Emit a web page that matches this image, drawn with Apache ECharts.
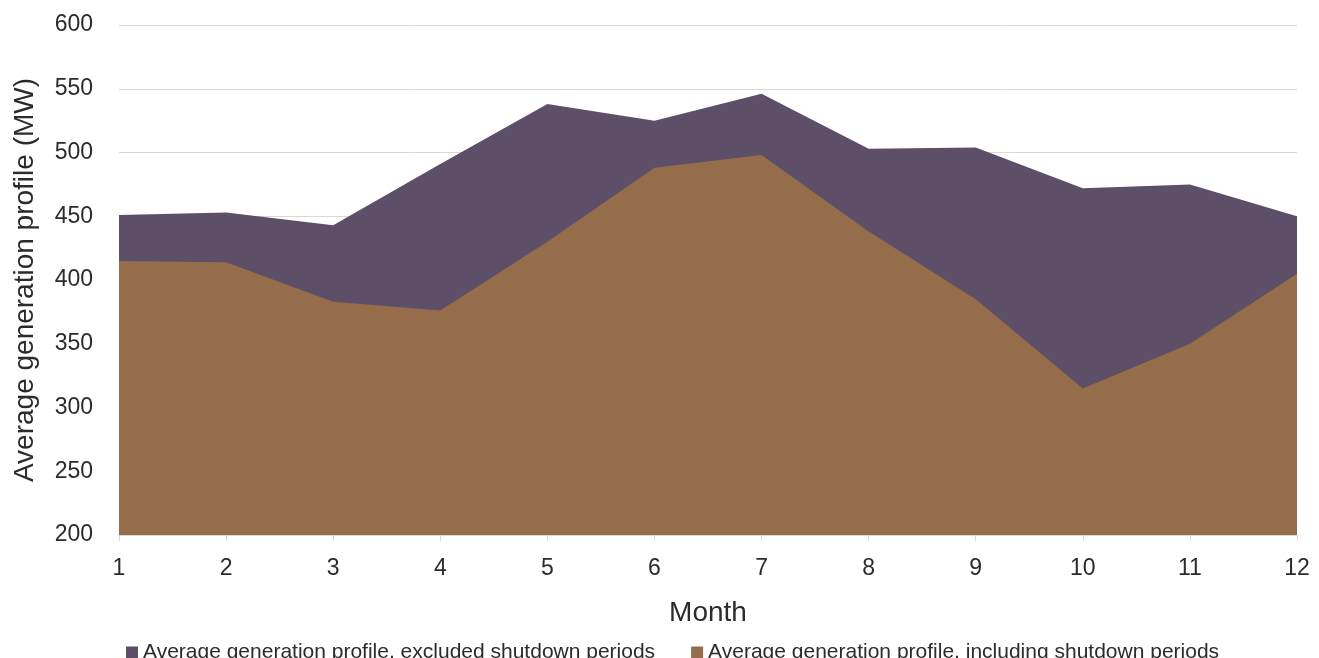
<!DOCTYPE html>
<html>
<head>
<meta charset="utf-8">
<script src="https://cdn.jsdelivr.net/npm/echarts@6/dist/echarts.min.js"></script>
<style>
  html, body { margin: 0; padding: 0; background: #fff; }
  #chart { width: 1319px; height: 658px; }
</style>
</head>
<body>
<div id="chart"></div>
<script>
// Months on the horizontal axis
const months = ['1', '2', '3', '4', '5', '6', '7', '8', '9', '10', '11', '12'];

// Average generation (MW) with shutdown periods left out
const excludedShutdown = [451, 453, 443, 491, 538, 525, 546, 503, 504, 472, 475, 450];

// Average generation (MW) with shutdown periods counted
const includingShutdown = [415, 414, 383, 376, 430, 488, 498, 438, 385, 315, 350, 405];

// Value axis range and step
const yMin = 200;
const yMax = 600;
const yStep = 50;

const seriesNames = [
  'Average generation profile, excluded shutdown periods',
  'Average generation profile, including shutdown periods'
];

const FONT = 'Liberation Sans';
const TEXT = '#2b2b2b';
const chart = echarts.init(document.getElementById('chart'), null, { renderer: 'canvas' });

chart.setOption({
  animation: false,
  backgroundColor: '#ffffff',
  textStyle: { fontFamily: FONT },
  color: ['#5d4f68', '#966d4a'],
  grid: { left: 119, right: 22, top: 25, bottom: 123, containLabel: false },
  legend: {
    data: seriesNames,
    left: 121,
    top: 637,
    itemWidth: 12,
    itemHeight: 12,
    itemGap: 36,
    icon: 'rect',
    textStyle: { fontFamily: FONT, fontSize: 21, color: TEXT }
  },
  xAxis: {
    type: 'category',
    data: months,
    boundaryGap: false,
    name: 'Month',
    nameLocation: 'middle',
    nameGap: 64,
    nameTextStyle: { fontFamily: FONT, fontSize: 28, color: TEXT },
    axisLine: { show: true, lineStyle: { color: '#d9d9d9', width: 1 } },
    axisTick: { show: true, length: 6, lineStyle: { color: '#d9d9d9' } },
    axisLabel: { fontFamily: FONT, fontSize: 23, color: TEXT, margin: 22 },
    splitLine: { show: false }
  },
  yAxis: {
    type: 'value',
    min: yMin,
    max: yMax,
    interval: yStep,
    name: 'Average generation profile (MW)',
    nameLocation: 'middle',
    nameGap: 80,
    nameTextStyle: { fontFamily: FONT, fontSize: 28, color: TEXT },
    axisLine: { show: false },
    axisTick: { show: false },
    axisLabel: { fontFamily: FONT, fontSize: 23, color: TEXT, margin: 26 },
    splitLine: { show: true, lineStyle: { color: '#d9d9d9', width: 1 } }
  },
  series: [
    {
      name: seriesNames[0],
      type: 'line',
      data: excludedShutdown,
      symbol: 'none',
      lineStyle: { width: 0 },
      areaStyle: { origin: 'start', opacity: 1 },
      z: 2
    },
    {
      name: seriesNames[1],
      type: 'line',
      data: includingShutdown,
      symbol: 'none',
      lineStyle: { width: 0 },
      areaStyle: { origin: 'start', opacity: 1 },
      z: 3
    }
  ]
});
</script>
</body>
</html>
